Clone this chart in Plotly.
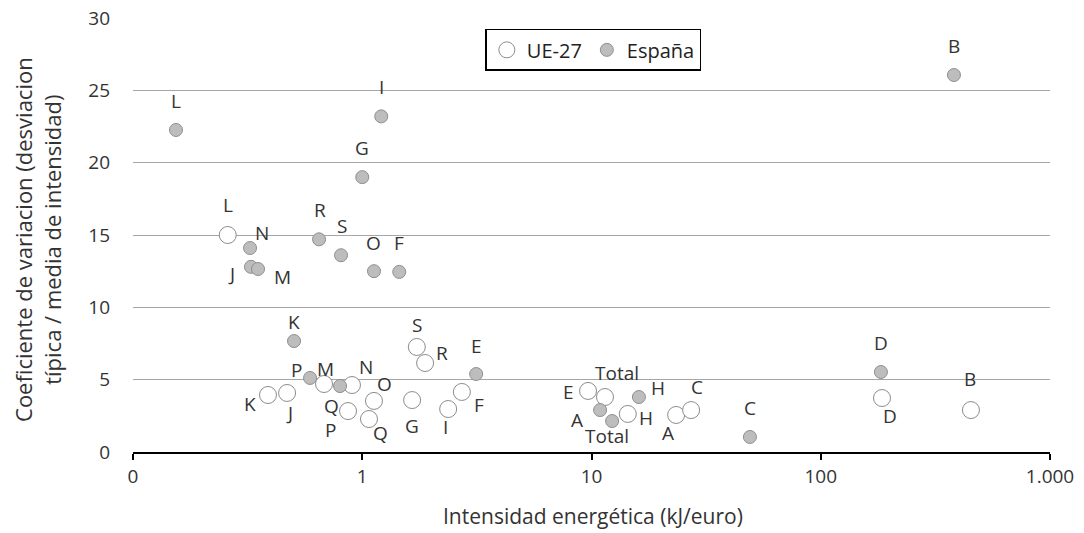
import math
import plotly.graph_objects as go

# ---------------- data ----------------
ue_labels = ["L", "K", "J", "M", "N", "O", "P", "Q", "G", "I", "F", "S", "R",
             "E", "Total", "H", "A", "C", "D", "B"]
ue_x = [0.259, 0.388, 0.470, 0.681, 0.902, 1.125, 0.867, 1.07, 1.65, 2.37, 2.72,
        1.73, 1.88, 9.66, 11.45, 14.4, 23.4, 27.2, 185, 452]
ue_y = [15.0, 3.94, 4.08, 4.70, 4.63, 3.53, 2.83, 2.28, 3.59, 2.97, 4.15,
        7.26, 6.15, 4.22, 3.80, 2.63, 2.56, 2.90, 3.73, 2.90]

es_labels = ["L", "I", "G", "R", "S", "N", "J", "M", "O", "F", "K", "P", "Q",
             "E", "A", "Total", "H", "C", "D", "B"]
es_x = [0.154, 1.21, 1.0, 0.648, 0.808, 0.324, 0.327, 0.351, 1.125, 1.45, 0.504,
        0.592, 0.80, 3.14, 10.9, 12.3, 16.1, 49.1, 183, 381]
es_y = [22.26, 23.2, 19.0, 14.7, 13.6, 14.1, 12.8, 12.65, 12.5, 12.45, 7.67,
        5.12, 4.56, 5.39, 2.90, 2.14, 3.80, 1.04, 5.53, 26.06]

x_tickvals = [0.1, 1, 10, 100, 1000]
x_ticktext = ["0", "1", "10", "100", "1.000"]
y_tickvals = [0, 5, 10, 15, 20, 25, 30]

x_title = "Intensidad energética (kJ/euro)"
y_title = "Coeficiente de variacion (desviacion<br>típica / media de intensidad)"

# ---------------- label offsets (pixels, dx right / dy down) ----------------
ue_off = {"L": (0, -30), "K": (-18, 9), "J": (2, 20), "M": (1, -15), "N": (14, -18),
          "O": (11, -17), "P": (-18, 19), "Q": (12, 14), "G": (0, 26), "I": (-3, 18),
          "F": (17, 13), "S": (0, -22), "R": (17, -10), "E": (-20, 1), "Total": (12, -24),
          "H": (18, 4), "A": (-8, 18), "C": (6, -23), "D": (8, 18), "B": (-1, -31)}
es_off = {"L": (0, -29), "I": (0, -29), "G": (0, -29), "R": (1, -29), "S": (1, -29),
          "N": (12, -15), "J": (-19, 7), "M": (24, 8), "O": (0, -28), "F": (0, -29),
          "K": (0, -19), "P": (-14, -8), "Q": (-9, 20), "E": (0, -28), "A": (-23, 10),
          "Total": (-5, 15), "H": (19, -9), "C": (0, -29), "D": (0, -29), "B": (0, -29)}

FONT = "Open Sans"
TXT = "#333333"

fig = go.Figure()
fig.add_trace(go.Scatter(
    x=ue_x, y=ue_y, mode="markers", name="UE-27",
    marker=dict(size=17, color="white", line=dict(color="#8c8c8c", width=1)),
    cliponaxis=False,
))
fig.add_trace(go.Scatter(
    x=es_x, y=es_y, mode="markers", name="España",
    marker=dict(size=13, color="#bdbdbd", line=dict(color="#8f8f8f", width=1)),
    cliponaxis=False,
))

annotations = []
for labels, xs, ys, off in ((ue_labels, ue_x, ue_y, ue_off), (es_labels, es_x, es_y, es_off)):
    for lab, xv, yv in zip(labels, xs, ys):
        dx, dy = off[lab]
        annotations.append(dict(
            x=math.log10(xv), y=yv, xref="x", yref="y", text=lab, showarrow=False,
            xshift=dx, yshift=-dy, font=dict(family=FONT, size=19, color=TXT),
        ))

# axis titles
annotations.append(dict(
    x=0.502, y=-0.148, xref="paper", yref="paper", text=x_title, showarrow=False,
    xanchor="center", yanchor="middle", font=dict(family=FONT, size=21, color=TXT),
))
annotations.append(dict(
    x=-0.104, y=0.49, xref="paper", yref="paper", text=y_title, showarrow=False,
    textangle=-90, xanchor="center", yanchor="middle",
    font=dict(family=FONT, size=22, color=TXT),
))

fig.update_layout(
    width=1084, height=533,
    margin=dict(l=133, r=34, t=18, b=81),
    paper_bgcolor="white", plot_bgcolor="white",
    font=dict(family=FONT, size=19, color=TXT),
    showlegend=True,
    legend=dict(
        orientation="h", x=0.502, y=0.975, xanchor="center", yanchor="top",
        bordercolor="black", borderwidth=1.5, bgcolor="white",
        font=dict(family=FONT, size=20, color="#222222"),
        itemwidth=30, tracegroupgap=0,
    ),
    annotations=annotations,
    xaxis=dict(
        type="log", range=[-1, 3], automargin=False,
        tickvals=x_tickvals, ticktext=x_ticktext,
        showgrid=False, zeroline=False,
        showline=True, linecolor="black", linewidth=2,
        ticks="outside", ticklen=6, tickwidth=2, tickcolor="black",
        tickfont=dict(family=FONT, size=19, color=TXT),
    ),
    yaxis=dict(
        range=[0, 30], tickvals=y_tickvals, automargin=False,
        showgrid=True, gridcolor="#a6a6a6", gridwidth=1,
        zeroline=False, showline=False, ticks="",
        ticklabelstandoff=22,
        tickfont=dict(family=FONT, size=19, color=TXT),
    ),
)

fig.write_html("out.html")
